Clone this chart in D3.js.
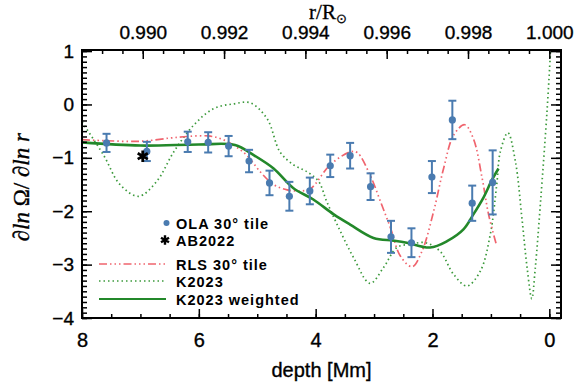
<!DOCTYPE html>
<html>
<head>
<meta charset="utf-8">
<script src="https://cdn.jsdelivr.net/npm/d3@7"></script>
<style>
  body { margin: 0; background: #fff; }
  svg { display: block; }
  .axis text { font-family: "Liberation Sans", Arial, sans-serif; font-size: 19px; fill: #000; stroke: #000; stroke-width: 0.35; }
  .axis path, .axis line { stroke: #000; }
</style>
</head>
<body>
<div id="chart"></div>
<script>
// OLA 30 deg tile inversions: depth [Mm], value, error
const olaDepth = [7.58, 6.89, 6.19, 5.84, 5.49, 5.14, 4.79, 4.45, 4.10, 3.75, 3.41, 3.06, 2.71, 2.36, 2.01, 1.66, 1.32, 0.97];
const olaValue = [-0.72, -0.88, -0.70, -0.71, -0.78, -1.06, -1.47, -1.72, -1.62, -1.15, -0.96, -1.54, -2.48, -2.59, -1.36, -0.29, -1.85, -1.46];
const olaError = [0.17, 0.18, 0.19, 0.19, 0.19, 0.21, 0.23, 0.27, 0.25, 0.21, 0.24, 0.25, 0.30, 0.27, 0.30, 0.36, 0.33, 0.60];

const abDepth = [6.96];
const abValue = [-0.97];

// RLS 30 deg tile
const rlsDepth = [8.0, 7.58, 7.0, 6.5, 6.2, 5.84, 5.63, 5.41, 5.18, 4.95, 4.72, 4.49, 4.26, 4.09, 3.75, 3.41, 3.29, 3.07, 2.89, 2.72, 2.55, 2.35, 2.18, 1.98, 1.81, 1.64, 1.45, 1.30, 1.15, 1.04, 0.90];
const rlsValue = [-0.66, -0.68, -0.69, -0.63, -0.60, -0.59, -0.64, -0.76, -0.95, -1.26, -1.50, -1.60, -1.62, -1.58, -1.13, -0.89, -0.90, -1.32, -1.82, -2.31, -2.84, -3.04, -2.75, -2.00, -1.20, -0.58, -0.38, -0.64, -1.38, -2.06, -2.65];

// K2023
const kDepth = [8.0, 7.63, 7.35, 7.03, 6.72, 6.43, 6.09, 5.75, 5.41, 5.12, 4.83, 4.61, 4.38, 4.15, 3.95, 3.81, 3.58, 3.35, 3.07, 2.84, 2.61, 2.38, 2.12, 1.87, 1.64, 1.41, 1.18, 1.01, 0.90, 0.84, 0.71, 0.58, 0.47, 0.38, 0.30, 0.24, 0.15, 0.04, -0.02];
const kValue = [-0.33, -0.95, -1.50, -1.72, -1.44, -0.89, -0.39, -0.08, 0.01, 0.03, -0.27, -0.89, -1.13, -1.26, -1.44, -1.82, -2.37, -2.87, -3.35, -3.06, -2.68, -2.62, -2.59, -2.75, -3.18, -3.40, -3.12, -2.43, -1.50, -0.89, -0.53, -1.07, -2.12, -3.06, -3.64, -3.06, -1.82, -0.14, 0.98];

// K2023 weighted
const kwDepth = [8.0, 7.0, 6.0, 5.38, 5.06, 4.72, 4.38, 4.04, 3.69, 3.41, 3.01, 2.67, 2.44, 2.04, 1.75, 1.47, 1.30, 1.13, 0.98, 0.87];
const kwValue = [-0.71, -0.77, -0.75, -0.76, -0.95, -1.20, -1.57, -1.78, -2.06, -2.25, -2.50, -2.55, -2.59, -2.68, -2.56, -2.34, -2.06, -1.75, -1.41, -1.20];

const xTicks = [8, 6, 4, 2, 0];
const yTicks = [1, 0, -1, -2, -3, -4];
const rTicks = [0.990, 0.992, 0.994, 0.996, 0.998, 1.000];
const legendLabels = ["OLA 30\u00b0 tile", "AB2022", "RLS 30\u00b0 tile", "K2023", "K2023 weighted"];

const width = 580, height = 383;
const margin = { top: 50, right: 19, bottom: 65, left: 82 };
const rSun = 696; // Mm

const blue = "#4a7bb0", red = "#f0646e", green = "#3c9a3c", darkGreen = "#23882a";

const svg = d3.select("#chart").append("svg")
    .attr("width", width)
    .attr("height", height);

const x = d3.scaleLinear().domain([8, -0.2]).range([margin.left, width - margin.right]);
const y = d3.scaleLinear().domain([-4, 1.02]).range([height - margin.bottom, margin.top]);
const xr = d3.scaleLinear()
    .domain([1 - 8 / rSun, 1 + 0.2 / rSun])
    .range([margin.left, width - margin.right]);

svg.append("clipPath").attr("id", "clip")
    .append("rect")
    .attr("x", margin.left).attr("y", margin.top)
    .attr("width", width - margin.left - margin.right)
    .attr("height", height - margin.top - margin.bottom);

const plot = svg.append("g").attr("clip-path", "url(#clip)");

const line = (xs, ys) => d3.line()
    .x(i => x(xs[i]))
    .y(i => y(ys[i]))
    .curve(d3.curveCatmullRom.alpha(0.5))(d3.range(xs.length));

plot.append("path")
    .attr("d", line(kDepth, kValue))
    .attr("fill", "none")
    .attr("stroke", green)
    .attr("stroke-width", 1.7)
    .attr("stroke-dasharray", "1.5,3");

plot.append("path")
    .attr("d", line(rlsDepth, rlsValue))
    .attr("fill", "none")
    .attr("stroke", red)
    .attr("stroke-width", 1.7)
    .attr("stroke-dasharray", "8,3,1.5,3,1.5,3,1.5,3");

plot.append("path")
    .attr("d", line(kwDepth, kwValue))
    .attr("fill", "none")
    .attr("stroke", darkGreen)
    .attr("stroke-width", 2.6);

// error bars
const eb = plot.append("g").attr("stroke", blue).attr("stroke-width", 2);
olaDepth.forEach((d, i) => {
    const cx = x(d);
    const top = y(olaValue[i] + olaError[i]), bot = y(olaValue[i] - olaError[i]);
    eb.append("line").attr("x1", cx).attr("x2", cx).attr("y1", top).attr("y2", bot);
    eb.append("line").attr("x1", cx - 4).attr("x2", cx + 4).attr("y1", top).attr("y2", top);
    eb.append("line").attr("x1", cx - 4).attr("x2", cx + 4).attr("y1", bot).attr("y2", bot);
});
plot.append("g").selectAll("circle")
    .data(olaDepth)
    .enter()
    .append("circle")
    .attr("cx", d => x(d))
    .attr("cy", (d, i) => y(olaValue[i]))
    .attr("r", 3.6)
    .attr("fill", blue);

plot.append("g").selectAll("path")
    .data(abDepth)
    .enter()
    .append("path")
    .attr("d", d3.symbol(d3.symbolAsterisk, 95))
    .attr("transform", (d, i) => `translate(${x(d)},${y(abValue[i])})`)
    .attr("stroke", "#000")
    .attr("stroke-width", 2.8)
    .attr("fill", "none");

// axes (ticks pointing inward)
const ih = height - margin.top - margin.bottom;
const iw = width - margin.left - margin.right;

function styleAxis(g) {
    g.attr("class", "axis");
    g.select(".domain").remove();
    g.selectAll("line").attr("stroke-width", 1.5);
}

const bottom = svg.append("g").attr("transform", `translate(0,${height - margin.bottom})`);
bottom.call(d3.axisBottom(x).tickValues(xTicks).tickSize(-9).tickPadding(15).tickFormat(d3.format("d")))
    .call(styleAxis);
svg.append("g").attr("transform", `translate(0,${height - margin.bottom})`)
    .call(d3.axisBottom(x).tickValues(d3.range(0, 8.01, 0.5)).tickSize(-4).tickFormat(""))
    .call(styleAxis);
bottom.selectAll("text").style("font-size", "20px");

svg.append("g").attr("transform", `translate(0,${margin.top})`)
    .call(d3.axisTop(xr).tickValues(rTicks).tickSize(-9).tickPadding(11).tickFormat(d3.format(".3f")))
    .call(styleAxis);
svg.append("g").attr("transform", `translate(0,${margin.top})`)
    .call(d3.axisTop(xr).tickValues(d3.range(0.9885, 1.00001, 0.0005)).tickSize(-4).tickFormat(""))
    .call(styleAxis);

const minorY = d3.range(-40, 11).map(v => v / 10);
svg.append("g").attr("transform", `translate(${margin.left},0)`)
    .call(d3.axisLeft(y).tickValues(yTicks).tickSize(-10).tickPadding(8)
        .tickFormat(d => d < 0 ? "\u2212" + Math.abs(d) : d))
    .call(styleAxis);
svg.append("g").attr("transform", `translate(${margin.left},0)`)
    .call(d3.axisLeft(y).tickValues(minorY).tickSize(-5).tickFormat(""))
    .call(styleAxis);
svg.append("g").attr("transform", `translate(${width - margin.right},0)`)
    .call(d3.axisRight(y).tickValues(yTicks).tickSize(-10).tickFormat(""))
    .call(styleAxis);
svg.append("g").attr("transform", `translate(${width - margin.right},0)`)
    .call(d3.axisRight(y).tickValues(minorY).tickSize(-5).tickFormat(""))
    .call(styleAxis);

svg.append("rect")
    .attr("x", margin.left).attr("y", margin.top)
    .attr("width", iw).attr("height", ih)
    .attr("fill", "none").attr("stroke", "#000").attr("stroke-width", 2);

// axis titles
svg.append("text")
    .attr("x", x(3.9)).attr("y", 377)
    .attr("text-anchor", "middle")
    .style("font-family", "Liberation Sans, Arial, sans-serif")
    .style("font-size", "20px")
    .style("stroke", "#000").style("stroke-width", 0.35)
    .text("depth [Mm]");

const rt = svg.append("text")
    .attr("x", 328).attr("y", 19)
    .attr("text-anchor", "middle")
    .style("font-family", "Liberation Serif, serif")
    .style("font-size", "21px")
    .style("stroke", "#000").style("stroke-width", 0.3);
rt.append("tspan").text("r/R");
rt.append("tspan").attr("dy", 4).style("font-size", "13px").text("\u2299");

const yl = svg.append("text")
    .attr("transform", `translate(29,${y(-1.55)}) rotate(-90)`)
    .attr("text-anchor", "middle")
    .style("font-family", "Liberation Serif, serif")
    .style("font-size", "23px")
    .style("stroke", "#000").style("stroke-width", 0.35);
yl.append("tspan").text("\u2202");
yl.append("tspan").style("font-style", "italic").text("ln");
yl.append("tspan").text(" \u03a9/ \u2202");
yl.append("tspan").style("font-style", "italic").text("ln r");

// legend
const legend = svg.append("g")
    .style("font-family", "Liberation Sans, Arial, sans-serif")
    .style("font-size", "14.5px")
    .style("font-weight", "bold")
    .style("letter-spacing", "1px");
const legendY = [223, 240, 264, 281, 299];
legendLabels.forEach((label, i) => {
    legend.append("text")
        .attr("x", 176).attr("y", legendY[i] + 5.5)
        .text(label);
});
legend.append("circle").attr("cx", 166.5).attr("cy", legendY[0]).attr("r", 3).attr("fill", blue);
legend.append("path")
    .attr("d", d3.symbol(d3.symbolAsterisk, 60))
    .attr("transform", `translate(165,${legendY[1]})`)
    .attr("stroke", "#000").attr("stroke-width", 2.4).attr("fill", "none");
legend.append("line").attr("x1", 99).attr("x2", 166).attr("y1", legendY[2]).attr("y2", legendY[2])
    .attr("stroke", red).attr("stroke-width", 1.7).attr("stroke-dasharray", "8,3,1.5,3,1.5,3,1.5,3");
legend.append("line").attr("x1", 99).attr("x2", 166).attr("y1", legendY[3]).attr("y2", legendY[3])
    .attr("stroke", green).attr("stroke-width", 1.7).attr("stroke-dasharray", "1.5,3");
legend.append("line").attr("x1", 99).attr("x2", 166).attr("y1", legendY[4]).attr("y2", legendY[4])
    .attr("stroke", darkGreen).attr("stroke-width", 2.2);
</script>
</body>
</html>
